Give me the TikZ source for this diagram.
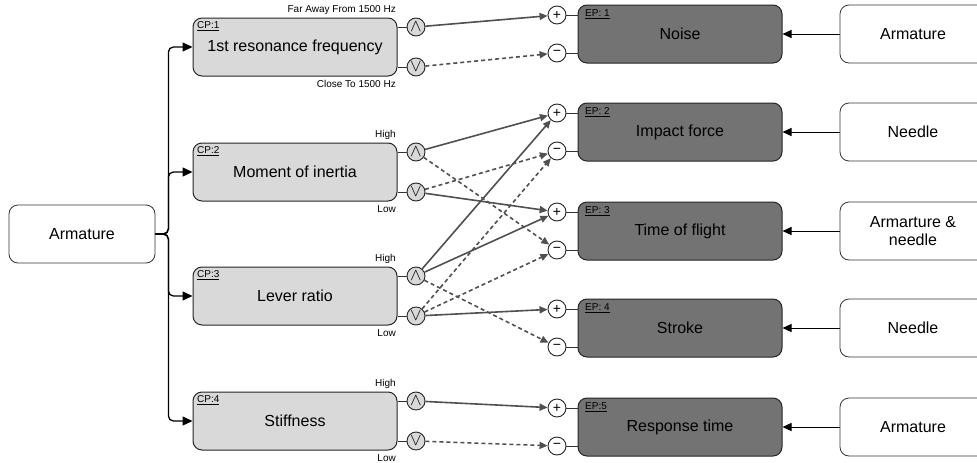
\documentclass[tikz,border=0pt]{standalone}
\usepackage{fontspec}
\setmainfont{Liberation Sans}
\usetikzlibrary{arrows.meta,calc}
\definecolor{cpfill}{HTML}{D9D9D9}
\definecolor{epfill}{HTML}{737373}
\definecolor{conn}{HTML}{505050}
\begin{document}
\begin{tikzpicture}[x=1pt,y=-1pt,
  every node/.style={font=\fontsize{16}{18.5}\selectfont},
  cpbox/.style={draw=black!85, fill=cpfill, rounded corners=9pt, minimum width=204pt, minimum height=58pt, line width=1pt, inner sep=0pt},
  epbox/.style={cpbox, fill=epfill},
  srcbox/.style={draw=black!80, fill=white, rounded corners=9pt, minimum width=146pt, minimum height=58pt, line width=0.8pt, inner sep=0pt, align=center},
  lvl/.style={circle, draw=black!85, fill=cpfill, minimum size=18pt, inner sep=0pt, line width=0.9pt, font=\fontsize{16}{16}\selectfont},
  sgn/.style={lvl, fill=white, font=\fontsize{14}{14}\selectfont},
  tag/.style={font=\fontsize{10}{12}\selectfont, inner sep=0pt},
  stub/.style={black!80, line width=0.9pt},
  posline/.style={conn, line width=1.6pt, -{Triangle[length=8pt,width=7pt]}},
  negline/.style={posline, dash pattern=on 4pt off 3pt},
  tree/.style={black, line width=1.3pt, rounded corners=5pt, -{Triangle[length=10pt,width=9pt]}},
  feed/.style={black, line width=1pt, -{Triangle[length=9pt,width=8pt]}}
]
\useasboundingbox (0,0) rectangle (977,463);

% left source
\node[srcbox] (arm) at (82,234) {Armature};

% CP boxes
\node[cpbox] (cp1) at (295,47) {1st resonance frequency};
\node[cpbox] (cp2) at (295,172) {Moment of inertia};
\node[cpbox] (cp3) at (295,296) {Lever ratio};
\node[cpbox] (cp4) at (295,421) {Stiffness};
\node[tag, anchor=west] (cp1t) at (197,26) {\underline{CP:1}};
\node[tag, anchor=west] (cp2t) at (197,151) {\underline{CP:2}};
\node[tag, anchor=west] (cp3t) at (197,275) {\underline{CP:3}};
\node[tag, anchor=west] (cp4t) at (197,400) {\underline{CP:4}};

% level labels
\node[tag, anchor=east] (h1) at (396,10) {Far Away From 1500 Hz};
\node[tag, anchor=east] (lo1) at (396,84) {Close To 1500 Hz};
\node[tag, anchor=east] (h2) at (396,135) {High};
\node[tag, anchor=east] (lo2) at (396,209) {Low};
\node[tag, anchor=east] (h3) at (396,259) {High};
\node[tag, anchor=east] (lo3) at (396,333) {Low};
\node[tag, anchor=east] (h4) at (396,384) {High};
\node[tag, anchor=east] (lo4) at (396,458) {Low};

% level circles
\node[lvl] (u1) at (416,27) {$\wedge$};
\node[lvl] (d1) at (416,67) {$\vee$};
\node[lvl] (u2) at (416,152) {$\wedge$};
\node[lvl] (d2) at (416,192) {$\vee$};
\node[lvl] (u3) at (416,276) {$\wedge$};
\node[lvl] (d3) at (416,316) {$\vee$};
\node[lvl] (u4) at (416,401) {$\wedge$};
\node[lvl] (d4) at (416,441) {$\vee$};
\foreach \i in {1,2,3,4}{
  \draw[stub] (cp\i.east |- u\i) -- (u\i);
  \draw[stub] (cp\i.east |- d\i) -- (d\i);
}

% EP boxes
\node[epbox] (ep1) at (680,34) {Noise};
\node[epbox] (ep2) at (680,132) {Impact force};
\node[epbox] (ep3) at (680,231) {Time of flight};
\node[epbox] (ep4) at (680,328) {Stroke};
\node[epbox] (ep5) at (680,427) {Response time};
\node[tag, anchor=west] (ep1t) at (585,14) {\underline{EP: 1}};
\node[tag, anchor=west] (ep2t) at (585,112) {\underline{EP: 2}};
\node[tag, anchor=west] (ep3t) at (585,211) {\underline{EP: 3}};
\node[tag, anchor=west] (ep4t) at (585,308) {\underline{EP: 4}};
\node[tag, anchor=west] (ep5t) at (585,407) {\underline{EP:5}};

% sign circles
\node[sgn] (p1) at (557,15) {+};
\node[sgn] (m1) at (557,53) {−};
\node[sgn] (p2) at (557,113) {+};
\node[sgn] (m2) at (557,151) {−};
\node[sgn] (p3) at (557,212) {+};
\node[sgn] (m3) at (557,250) {−};
\node[sgn] (p4) at (557,309) {+};
\node[sgn] (m4) at (557,347) {−};
\node[sgn] (p5) at (557,408) {+};
\node[sgn] (m5) at (557,446) {−};
\foreach \i in {1,...,5}{
  \draw[stub] (p\i) -- (ep\i.west |- p\i);
  \draw[stub] (m\i) -- (ep\i.west |- m\i);
}

% right sources
\node[srcbox] (r1) at (913,34) {Armature};
\node[srcbox] (r2) at (913,132) {Needle};
\node[srcbox] (r3) at (913,231) {Armarture \&\\needle};
\node[srcbox] (r4) at (913,328) {Needle};
\node[srcbox] (r5) at (913,427) {Armature};
\foreach \i in {1,...,5}{
  \draw[feed] (r\i.west) -- (ep\i.east);
}

% tree
\foreach \i in {1,2,3,4}{
  \draw[tree] (arm.east) -- ++(13,0) |- (cp\i.west);
}

% influence connectors
\draw[posline] (u1) -- (p1);
\draw[negline] (d1) -- (m1);
\draw[posline] (u2) -- (p2);
\draw[negline] (u2) -- (m3);
\draw[negline] (d2) -- (m2);
\draw[posline] (d2) -- (p3);
\draw[posline] (u3) -- (p2);
\draw[posline] (u3) -- (p3);
\draw[negline] (u3) -- (m4);
\draw[negline] (d3) -- (m2);
\draw[negline] (d3) -- (m3);
\draw[posline] (d3) -- (p4);
\draw[posline] (u4) -- (p5);
\draw[negline] (d4) -- (m5);
\end{tikzpicture}
\end{document}
